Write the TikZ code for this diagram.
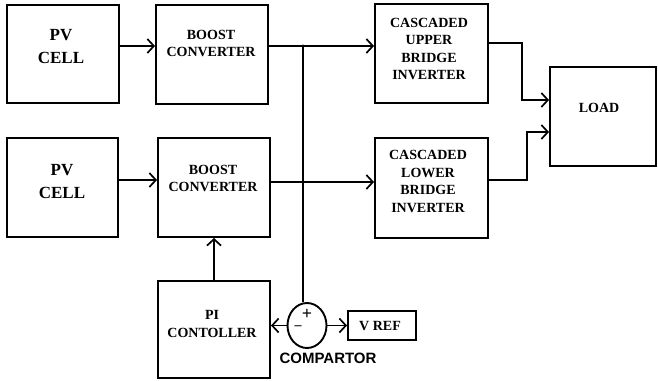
\documentclass[tikz,border=0pt]{standalone}
\usepackage{fontspec}
\setmainfont{Liberation Serif}
\newfontfamily\arialfont{Liberation Sans}
\usetikzlibrary{arrows.meta,shapes.geometric}
\begin{document}
\begin{tikzpicture}[x=1pt,y=-1pt,
 blk/.style={draw,line width=1.9pt,rectangle,inner sep=0pt},
 lbl/.style={align=center,inner sep=0pt,font=\fontsize{14}{17.5}\selectfont\bfseries},
 wire/.style={line width=1.9pt},
 arr/.style={wire,-{Straight Barb[length=6.5pt,width=14pt,line width=1.7pt]}}
]
\useasboundingbox[fill=white] (0,0) rectangle (658,380);
% blocks
\node[blk,minimum width=112pt,minimum height=98pt] (pv1) at (63,54) {};
\node[blk,minimum width=112pt,minimum height=99pt] (bc1) at (212,54.5) {};
\node[blk,minimum width=111pt,minimum height=99pt] (pv2) at (62.5,187.5) {};
\node[blk,minimum width=112pt,minimum height=99pt] (bc2) at (214,187.5) {};
\node[blk,minimum width=113pt,minimum height=99pt] (ui) at (431.5,53.5) {};
\node[blk,minimum width=113pt,minimum height=100pt] (li) at (431.5,188) {};
\node[blk,minimum width=106pt,minimum height=99pt] (load) at (603,116.5) {};
\node[blk,minimum width=112pt,minimum height=97pt] (pi) at (214,329.5) {};
\node[blk,minimum width=68pt,minimum height=29pt] (vref) at (382,325.5) {};
\node[draw,ellipse,line width=1.9pt,minimum width=39pt,minimum height=45pt,inner sep=0pt] (cmp) at (307,325.5) {};
% labels
\node[lbl,font=\fontsize{17}{23}\selectfont\bfseries] (t1) at (61,47) {PV\\CELL};
\node[lbl] (t2) at (211,43.5) {BOOST\\CONVERTER};
\node[lbl,font=\fontsize{17}{23}\selectfont\bfseries] (t3) at (62,181.5) {PV\\CELL};
\node[lbl] (t4) at (213,178.5) {BOOST\\CONVERTER};
\node[lbl] (t5) at (429,49) {CASCADED\\UPPER\\BRIDGE\\INVERTER};
\node[lbl] (t6) at (428,181.5) {CASCADED\\LOWER\\BRIDGE\\INVERTER};
\node[lbl] (t7) at (599,108) {LOAD};
\node[lbl] (t8) at (212,324) {PI\\CONTOLLER};
\node[lbl] (t9) at (380,326) {V REF};
\node[inner sep=0pt,font=\fontsize{15}{18}\selectfont\bfseries\arialfont] (t10) at (328,358) {COMPARTOR};
\node[inner sep=0pt,font=\fontsize{18}{18}\selectfont\bfseries] (plus) at (307,314) {+};
\node[inner sep=0pt,font=\fontsize{14}{18}\selectfont\bfseries] (minus) at (298,328) {--};
% junctions and bends
\coordinate (j1) at (303,46);
\coordinate (j2) at (303,182);
\coordinate (b1) at (522,43);
\coordinate (b2) at (522,100);
\coordinate (b3) at (527,180);
\coordinate (b4) at (527,132);
% connectors
\draw[arr] (pv1.east |- j1) -- (bc1.west |- j1);
\draw[arr] (pv2.east |- b3) -- (bc2.west |- b3);
\draw[arr] (bc1.east |- j1) -- (j1) -- (ui.west |- j1);
\draw[arr] (bc2.east |- j2) -- (j2) -- (li.west |- j2);
\draw[wire] (j1) -- (j1 |- cmp.north);
\draw[arr] (ui.east |- b1) -- (b1) -- (b2) -- (load.west |- b2);
\draw[arr] (li.east |- b3) -- (b3) -- (b4) -- (load.west |- b4);
\draw[arr] (pi.north) -- (bc2.south);
\draw[arr] (cmp.west) -- (pi.east |- cmp.west);
\draw[arr] (cmp.east) -- (vref.west |- cmp.east);
\fill (j1) circle (1.6pt);
\fill (j2) circle (1.6pt);
\end{tikzpicture}
\end{document}
